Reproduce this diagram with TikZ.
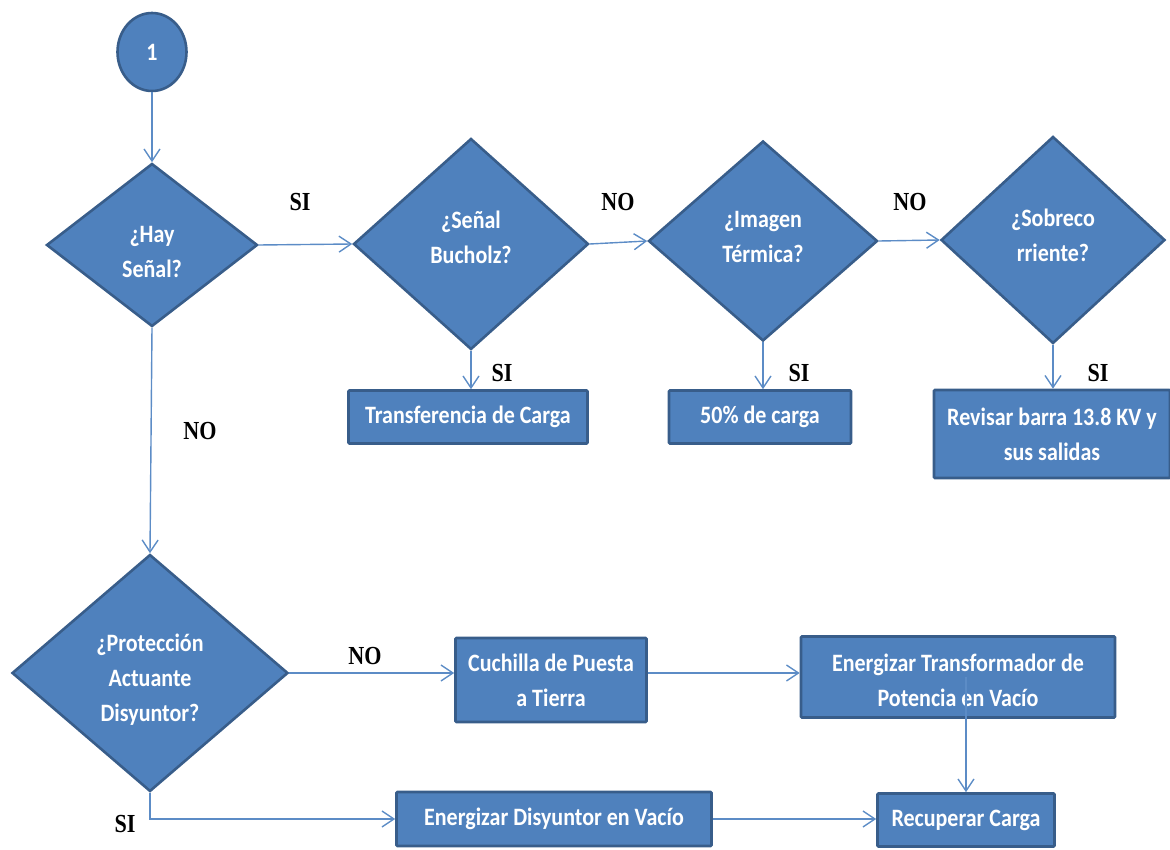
\documentclass[tikz,border=0pt]{standalone}
\usepackage{fontspec}
\usetikzlibrary{shapes.geometric,arrows.meta}
\newfontfamily\boxfont{Carlito}[FakeStretch=0.88]
\newfontfamily\lblfont{Liberation Serif}[FakeStretch=0.85]
\definecolor{shapefill}{RGB}{79,129,189}
\definecolor{shapeline}{RGB}{56,93,138}
\definecolor{linkcol}{RGB}{92,140,198}
% invisible struts that move a node's text up or down inside its shape
\newcommand\topstrut[1]{\rule{0pt}{#1}}
\newcommand\botstrut[1]{\rule[-#1]{0pt}{#1}}
\tikzset{
  base/.style={fill=shapefill, draw=shapeline, line width=2.6pt, text=white,
    font=\boxfont\bfseries\fontsize{25}{35}\selectfont, align=center, inner sep=0pt},
  decision/.style={base, diamond, aspect=1.1},
  stepbox/.style={base, rectangle, rounded corners=1pt},
  startnode/.style={base, ellipse, minimum width=69pt, minimum height=78pt},
  link/.style={draw=linkcol, line width=1.4pt,
    -{Straight Barb[length=12pt,width=16pt,line width=1.4pt]}},
  answer/.style={font=\lblfont\bfseries\fontsize{26}{28}\selectfont, text=black, inner sep=0pt}
}
\begin{document}
\begin{tikzpicture}[x=1pt,y=-1pt]
\useasboundingbox (0,0) rectangle (1170,850);

% start connector
\node[startnode] (c1) at (152,52) {1};

% upper row of decisions
\node[decision, minimum width=211pt, minimum height=163pt] (d1) at (152,245) {\topstrut{30pt}¿Hay\\Señal?};
\node[decision, minimum width=235pt, minimum height=211pt] (d2) at (471,244) {¿Señal\\Bucholz?\botstrut{14pt}};
\node[decision, minimum width=229pt, minimum height=200pt] (d3) at (763,241) {¿Imagen\\Térmica?\botstrut{8pt}};
\node[decision, minimum width=224pt, minimum height=207pt] (d4) at (1053,240) {¿Sobreco\\rriente?\botstrut{9pt}};

% actions for the upper row
\node[stepbox, minimum width=239pt, minimum height=53pt] (b1) at (468,417) {Transferencia de Carga};
\node[stepbox, minimum width=182pt, minimum height=53pt] (b2) at (760,417) {50\% de carga};
\node[stepbox, minimum width=236pt, minimum height=88pt] (b3) at (1052,434) {Revisar barra 13.8 KV y\\sus salidas};

% lower part
\node[decision, minimum width=276pt, minimum height=237pt] (d5) at (150,673) {\topstrut{31pt}¿Protección\\Actuante\\Disyuntor?};
\node[stepbox, minimum width=191pt, minimum height=84pt] (cu) at (551,680) {Cuchilla de Puesta\\a Tierra};
\node[stepbox, minimum width=314pt, minimum height=81pt] (etp) at (958,677) {\topstrut{24pt}Energizar Transformador de\\Potencia en Vacío};
\node[stepbox, minimum width=315pt, minimum height=54pt] (edv) at (554,819) {Energizar Disyuntor en Vacío};
\node[stepbox, minimum width=177pt, minimum height=53pt] (rc) at (966,820) {Recuperar Carga};

% connectors
\draw[link] (c1.south) -- (d1.north);
\draw[link] (d1.east) -- (d2.west);
\draw[link] (d2.east) -- (d3.west);
\draw[link] (d3.east) -- (d4.west);
\draw[link] (d2.south) -- (d2.south |- b1.north);
\draw[link] (d3.south) -- (d3.south |- b2.north);
\draw[link] (d4.south) -- (d4.south |- b3.north);
\draw[link] (d1.south) -- (d5.north);
\draw[link] (d5.east) -- (d5.east -| cu.west);
\draw[link] (cu.east |- d5.east) -- (d5.east -| etp.west);
\draw[link] (etp.center -| rc.north) -- (rc.north);
\draw[link] (d5.south) |- (edv.west);
\draw[link] (edv.east) -- (edv.east -| rc.west);

% branch answers
\node[answer] (a1) at (300,202) {SI};
\node[answer] (a2) at (618,202) {NO};
\node[answer] (a3) at (910,202) {NO};
\node[answer] (a4) at (502,373) {SI};
\node[answer] (a5) at (799,373) {SI};
\node[answer] (a6) at (1098,373) {SI};
\node[answer] (a7) at (200,431) {NO};
\node[answer] (a8) at (365,656) {NO};
\node[answer] (a9) at (125,824) {SI};
\end{tikzpicture}
\end{document}
